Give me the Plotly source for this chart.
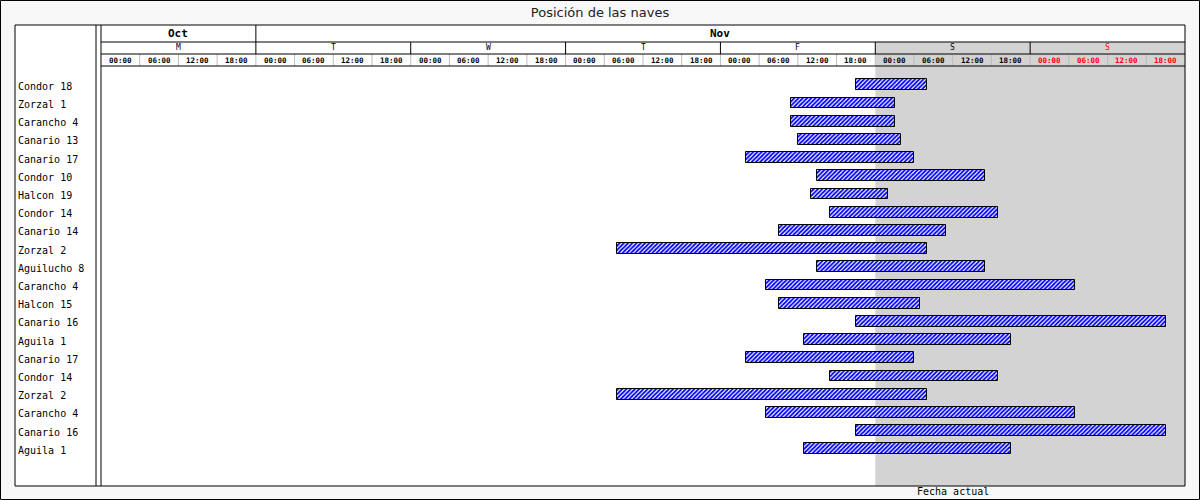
import plotly.graph_objects as go
import pandas as pd

title = "Posición de las naves"
ships = ["Condor 18", "Zorzal 1", "Carancho 4", "Canario 13", "Canario 17", "Condor 10",
         "Halcon 19", "Condor 14", "Canario 14", "Zorzal 2", "Aguilucho 8", "Carancho 4",
         "Halcon 15", "Canario 16", "Aguila 1", "Canario 17", "Condor 14", "Zorzal 2",
         "Carancho 4", "Canario 16", "Aguila 1"]
starts = ["2005-11-04 21:00", "2005-11-04 11:00", "2005-11-04 11:00", "2005-11-04 12:00",
          "2005-11-04 04:00", "2005-11-04 15:00", "2005-11-04 14:00", "2005-11-04 17:00",
          "2005-11-04 09:00", "2005-11-03 08:00", "2005-11-04 15:00", "2005-11-04 07:00",
          "2005-11-04 09:00", "2005-11-04 21:00", "2005-11-04 13:00", "2005-11-04 04:00",
          "2005-11-04 17:00", "2005-11-03 08:00", "2005-11-04 07:00", "2005-11-04 21:00",
          "2005-11-04 13:00"]
ends = ["2005-11-05 08:00", "2005-11-05 03:00", "2005-11-05 03:00", "2005-11-05 04:00",
        "2005-11-05 06:00", "2005-11-05 17:00", "2005-11-05 02:00", "2005-11-05 19:00",
        "2005-11-05 11:00", "2005-11-05 08:00", "2005-11-05 17:00", "2005-11-06 07:00",
        "2005-11-05 07:00", "2005-11-06 21:00", "2005-11-05 21:00", "2005-11-05 06:00",
        "2005-11-05 19:00", "2005-11-05 08:00", "2005-11-06 07:00", "2005-11-06 21:00",
        "2005-11-05 21:00"]

range_start = "2005-10-31 00:00"
range_end = "2005-11-07 00:00"
month_labels = ["Oct", "Nov"]
month_bounds = ["2005-10-31", "2005-11-01", "2005-11-07"]
day_letters = ["M", "T", "W", "T", "F", "S", "S"]
hour_labels = ["00:00", "06:00", "12:00", "18:00"]
weekend_start = "2005-11-05 00:00"
today_label = "Fecha actual"
today_date = "2005-11-05 12:00"

# ---- geometry helpers (pixel -> paper) ----
W, H = 1200, 500
ML, MR, MT, MB = 101, 15, 66, 14
PW = W - ML - MR
PH = H - MT - MB


def px(x):
    return (x - ML) / PW


def py(y):
    return (H - MB - y) / PH


s = pd.to_datetime(starts)
e = pd.to_datetime(ends)
dur_ms = [(b - a).total_seconds() * 1000 for a, b in zip(s, e)]
idx = list(range(len(ships)))

fig = go.Figure()
fig.add_trace(go.Bar(
    y=idx, base=starts, x=dur_ms, orientation="h", width=0.6,
    marker=dict(color="white",
                line=dict(color="black", width=1),
                pattern=dict(shape="/", fgcolor="#0000ff", bgcolor="white",
                             size=3, solidity=0.6, fillmode="replace")),
    hoverinfo="skip", showlegend=False,
))

shapes = []
annots = []
# white gantt box background
shapes.append(dict(type="rect", xref="paper", yref="paper", x0=px(15), x1=px(1185),
                   y0=py(486), y1=py(25), fillcolor="white", line=dict(width=0), layer="below"))
# weekend shading in plot and header rows
shapes.append(dict(type="rect", xref="x", yref="paper", x0=weekend_start, x1=range_end,
                   y0=0, y1=py(42), fillcolor="#d3d3d3", line=dict(width=0), layer="below"))

days = pd.date_range(range_start, periods=7, freq="D")
# hour separators (gray) in hour row
for d in days:
    for h in (6, 12, 18):
        t = d + pd.Timedelta(hours=h)
        shapes.append(dict(type="line", xref="x", yref="paper", x0=t, x1=t, y0=py(66), y1=py(54),
                           line=dict(color="#bdbdbd", width=1)))
    if d != days[0]:
        shapes.append(dict(type="line", xref="x", yref="paper", x0=d, x1=d, y0=py(66), y1=py(54),
                           line=dict(color="#bdbdbd", width=1)))
        shapes.append(dict(type="line", xref="x", yref="paper", x0=d, x1=d, y0=py(54), y1=py(42),
                           line=dict(color="black", width=1)))
# month separator
for mb in month_bounds[1:-1]:
    shapes.append(dict(type="line", xref="x", yref="paper", x0=mb, x1=mb, y0=py(42), y1=py(25),
                       line=dict(color="black", width=1)))
# horizontal header lines
for yy in (42, 54, 66):
    shapes.append(dict(type="line", xref="paper", yref="paper", x0=0, x1=1, y0=py(yy), y1=py(yy),
                       line=dict(color="black", width=1)))
# double vertical lines
for xx in (96, 101):
    shapes.append(dict(type="line", xref="paper", yref="paper", x0=px(xx), x1=px(xx),
                       y0=py(486), y1=py(25), line=dict(color="black", width=1)))
# gantt box outline
shapes.append(dict(type="rect", xref="paper", yref="paper", x0=px(15), x1=px(1185),
                   y0=py(486), y1=py(25), line=dict(color="black", width=1)))
# image border
shapes.append(dict(type="rect", xref="paper", yref="paper", x0=px(0.5), x1=px(1199.5),
                   y0=py(499.5), y1=py(0.5), line=dict(color="black", width=1)))

mono = "DejaVu Sans Mono"
# month labels
for i, m in enumerate(month_labels):
    a = pd.Timestamp(month_bounds[i])
    b = pd.Timestamp(month_bounds[i + 1])
    c = a + (b - a) / 2
    annots.append(dict(x=c, y=py(33.5), xref="x", yref="paper", text="<b>%s</b>" % m,
                       xanchor="center", yanchor="middle",
                       showarrow=False, font=dict(family=mono, size=11, color="black")))
# day letters & hour labels
for i, d in enumerate(days):
    col = "red" if i == 6 else "black"
    annots.append(dict(x=d + pd.Timedelta(hours=12), y=py(48), xref="x", yref="paper",
                       text=day_letters[i], showarrow=False, xanchor="center", yanchor="middle",
                       font=dict(family=mono, size=8, color=col)))
    for j, hl in enumerate(hour_labels):
        annots.append(dict(x=d + pd.Timedelta(hours=6 * j + 3), y=py(60), xref="x", yref="paper",
                           text="<b>%s</b>" % hl, showarrow=False, xanchor="center",
                           yanchor="middle",
                           font=dict(family=mono, size=7.5, color=col)))
# row labels
for i, nm in enumerate(ships):
    annots.append(dict(x=px(16), y=i, xref="paper", yref="y", text=nm, xanchor="left",
                       yanchor="middle", yshift=-1.5,
                       showarrow=False, font=dict(family=mono, size=10, color="black")))
# today label
annots.append(dict(x=today_date, y=py(499), xref="x", yref="paper", yanchor="bottom",
                   xanchor="center", text=today_label, showarrow=False,
                   font=dict(family=mono, size=10, color="black")))

fig.update_layout(
    width=W, height=H,
    margin=dict(l=ML, r=MR, t=MT, b=MB, pad=0),
    paper_bgcolor="#f8f8f8", plot_bgcolor="rgba(0,0,0,0)",
    title=dict(text=title, x=0.5, xref="container", y=1 - 12 / H, yref="container",
               xanchor="center", yanchor="middle",
               font=dict(family="DejaVu Sans", size=13, color="#222")),
    xaxis=dict(type="date", range=[range_start, range_end], showgrid=False, zeroline=False,
               showticklabels=False, showline=False, ticks=""),
    yaxis=dict(range=[(486 - 84.8) / 18.2, (66 - 84.8) / 18.2], showgrid=False, zeroline=False,
               showticklabels=False, showline=False, ticks=""),
    shapes=shapes, annotations=annots, bargap=0,
)

fig.write_html("out.html")
